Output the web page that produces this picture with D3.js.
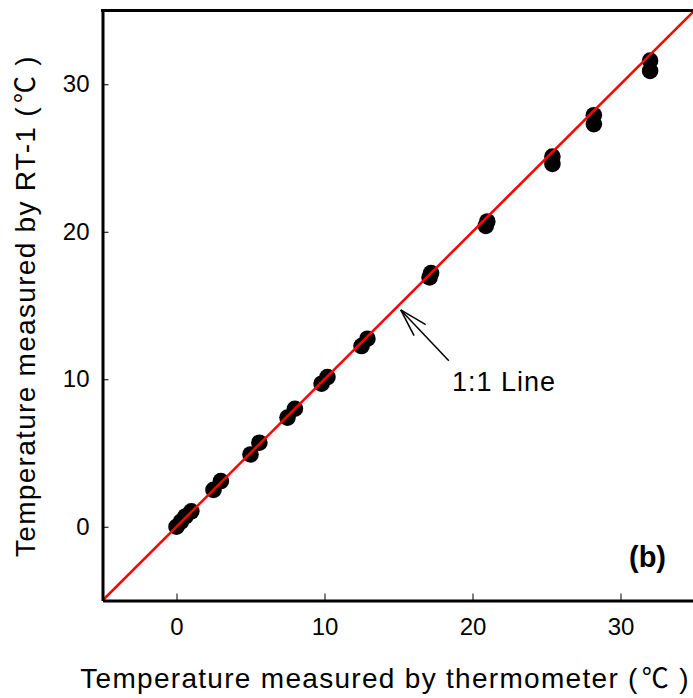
<!DOCTYPE html>
<html>
<head>
<meta charset="utf-8">
<script src="https://cdn.jsdelivr.net/npm/d3@7"></script>
<style>
  html, body { margin: 0; padding: 0; background: #fff; }
  svg { display: block; }
  text { font-family: "Liberation Sans", Arial, sans-serif; fill: #000; }
</style>
</head>
<body>
<svg id="chart" width="693" height="698"></svg>
<script>
// ---- data ----
const thermometer = [0, 0.3, 0.6, 1.0, 2.5, 3.0, 5.0, 5.6, 7.5, 8.0, 9.8, 10.2, 12.5, 12.9, 17.1, 17.2, 20.9, 21.0, 25.4, 25.4, 28.2, 28.2, 32.0, 32.0];
const rt1 =         [0, 0.35, 0.7, 1.05, 2.5, 3.1, 4.9, 5.7, 7.4, 8.0, 9.7, 10.15, 12.25, 12.75, 16.9, 17.2, 20.4, 20.7, 24.6, 25.1, 27.3, 27.9, 30.9, 31.6];
const xTicks = [0, 10, 20, 30];
const yTicks = [0, 10, 20, 30];
const xDomain = [-5, 35];
const yDomain = [-5, 35];
const oneToOne = [[-5, -5], [35, 35]];
const xTitleMain = "Temperature measured by thermometer (";
const yTitleMain = "Temperature measured by RT-1 (";
const unitSymbol = "\u2103";
const unitClose = " )";
const lineLabel = "1:1 Line";
const panelLabel = "(b)";

// ---- drawing ----
const svg = d3.select("#chart");
const x = d3.scaleLinear().domain(xDomain).range([102.5, 694.5]);
const y = d3.scaleLinear().domain(yDomain).range([600.5, 10.5]);

// points
const pts = thermometer.map((t, i) => ({ t, r: rt1[i] }));
svg.append("g").selectAll("circle")
  .data(pts)
  .join("circle")
  .attr("cx", d => x(d.t))
  .attr("cy", d => y(d.r))
  .attr("r", 8.3)
  .attr("fill", "#000");

// 1:1 line drawn over points
svg.append("path")
  .datum(oneToOne)
  .attr("d", d3.line().x(d => x(d[0])).y(d => y(d[1])))
  .attr("stroke", "#ff0000")
  .attr("stroke-width", 2.5)
  .attr("fill", "none");

// axes
const xAxis = svg.append("g")
  .attr("transform", `translate(0,${y(-5)})`)
  .call(d3.axisBottom(x).tickValues(xTicks).tickSizeInner(-7).tickSizeOuter(0).tickPadding(17));
const yAxis = svg.append("g")
  .attr("transform", `translate(${x(-5)},0)`)
  .call(d3.axisLeft(y).tickValues(yTicks).tickSizeInner(-6).tickSizeOuter(0).tickPadding(13));
[xAxis, yAxis].forEach(g => {
  g.select(".domain").attr("stroke", "#000").attr("stroke-width", 3);
  g.selectAll(".tick line").attr("stroke", "#000").attr("stroke-width", 1);
  g.selectAll(".tick text")
    .attr("font-family", "'Liberation Sans', Arial, sans-serif")
    .attr("font-size", 24)
    .attr("fill", "#000");
});

// top frame line
svg.append("line")
  .attr("x1", x(-5) - 1.5).attr("x2", x(35))
  .attr("y1", y(35)).attr("y2", y(35))
  .attr("stroke", "#000").attr("stroke-width", 3);

// axis titles
function title(sel, main) {
  sel.attr("font-size", 28).attr("letter-spacing", 1.3).attr("text-anchor", "middle");
  sel.append("tspan").text(main);
  sel.append("tspan").attr("font-family", "'Noto Sans CJK SC', sans-serif").attr("font-size", 27).attr("dx", 3).text(unitSymbol);
  sel.append("tspan").text(unitClose);
}
svg.append("text")
  .attr("x", 385).attr("y", 688)
  .call(title, xTitleMain);
svg.append("text")
  .attr("transform", "translate(35,306) rotate(-90)")
  .call(title, yTitleMain);

// annotation arrow
const tip = [x(15.15), y(14.7)];
const tail = [x(18.4), y(11.25)];
svg.append("line")
  .attr("x1", tail[0]).attr("y1", tail[1])
  .attr("x2", tip[0]).attr("y2", tip[1])
  .attr("stroke", "#000").attr("stroke-width", 1.5);
const ang = Math.atan2(tail[1] - tip[1], tail[0] - tip[0]);
[0.28, -0.28].forEach(da => {
  svg.append("line")
    .attr("x1", tip[0]).attr("y1", tip[1])
    .attr("x2", tip[0] + 29 * Math.cos(ang + da))
    .attr("y2", tip[1] + 29 * Math.sin(ang + da))
    .attr("stroke", "#000").attr("stroke-width", 1.5);
});
svg.append("text")
  .attr("x", 452).attr("y", 391)
  .attr("font-size", 27)
  .attr("letter-spacing", 1)
  .text(lineLabel);

// panel label
svg.append("text")
  .attr("x", 629).attr("y", 567)
  .attr("font-size", 29)
  .attr("font-weight", "bold")
  .text(panelLabel);
</script>
</body>
</html>
